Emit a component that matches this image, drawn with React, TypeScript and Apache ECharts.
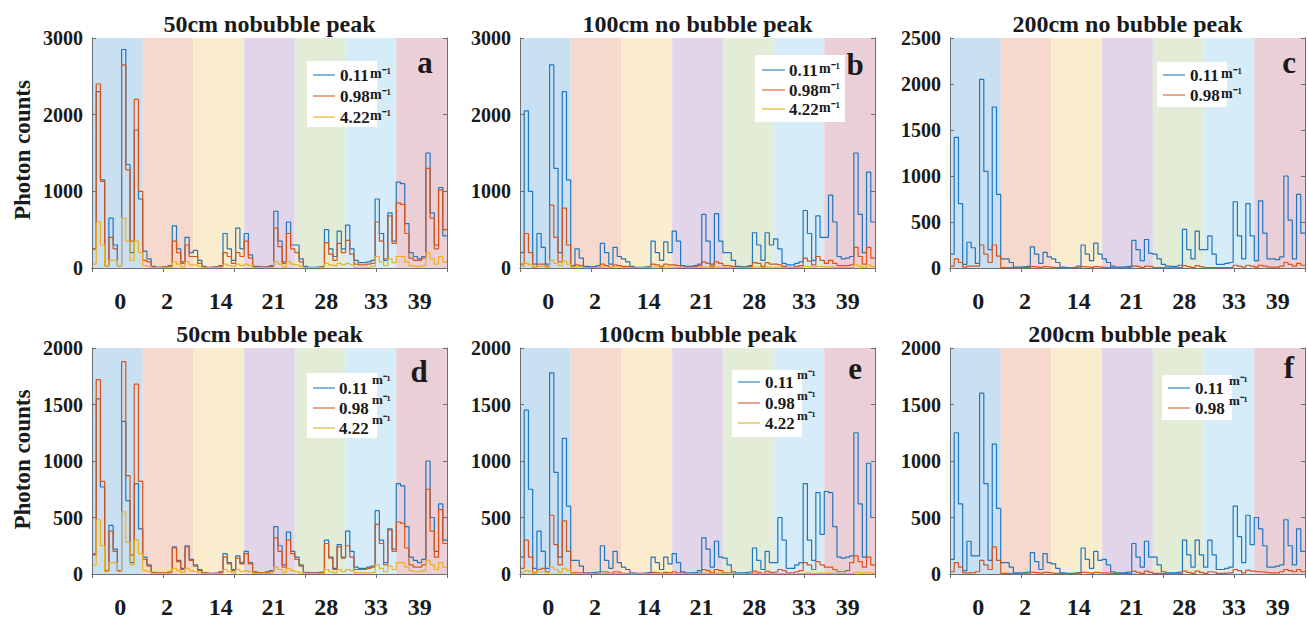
import React, { useEffect, useRef } from "react";
import * as echarts from "echarts";

// ---------- data ----------
const days = ["0", "2", "14", "21", "28", "33", "39"];
const seriesNames = ["0.11", "0.98", "4.22"];
const bandColors = ["#c8e0f1", "#f7d8cd", "#f9edcd", "#e2d5e9", "#e3ecd6", "#d6ecf8", "#ebcfd6"];
const lineColors = ["#1f77c0", "#d95319", "#edb120"];
const legendLineColors = ["#5b9fd6", "#e58a66", "#efc25e"];

// each series: 7 days x 12 consecutive plateau readings (photon counts)
const a011 = [
  [250, 2300, 1150, 30, 650, 300, 30, 2850, 1350, 200, 1800, 900],
  [220, 120, 20, 10, 15, 20, 30, 550, 250, 80, 400, 200],
  [230, 100, 20, 10, 15, 20, 30, 450, 250, 100, 520, 250],
  [450, 170, 20, 15, 15, 20, 30, 740, 350, 80, 600, 300],
  [300, 120, 20, 10, 10, 15, 20, 500, 250, 150, 480, 250],
  [560, 250, 100, 70, 70, 80, 100, 900, 450, 100, 720, 350],
  [1120, 1100, 580, 200, 150, 120, 150, 1500, 720, 300, 1050, 420],
];
const a098 = [
  [250, 2400, 1130, 30, 400, 250, 30, 2650, 1280, 350, 2200, 1000],
  [100, 80, 10, 10, 10, 15, 20, 350, 200, 60, 300, 150],
  [150, 60, 10, 5, 10, 15, 20, 200, 150, 60, 200, 150],
  [350, 130, 10, 10, 10, 15, 20, 520, 280, 60, 450, 250],
  [200, 80, 10, 5, 5, 10, 15, 330, 180, 100, 320, 200],
  [360, 180, 50, 40, 40, 50, 60, 600, 350, 120, 680, 320],
  [850, 830, 450, 130, 100, 100, 130, 1300, 650, 250, 1020, 500],
];
const a422 = [
  [50, 600, 300, 30, 100, 100, 30, 650, 350, 100, 350, 200],
  [30, 20, 5, 5, 5, 10, 10, 80, 50, 15, 80, 40],
  [40, 20, 5, 5, 5, 10, 10, 50, 30, 20, 50, 30],
  [50, 30, 5, 5, 5, 5, 10, 80, 50, 15, 80, 50],
  [40, 20, 5, 5, 5, 5, 10, 60, 40, 30, 60, 40],
  [60, 40, 10, 10, 10, 10, 20, 150, 80, 30, 120, 70],
  [150, 150, 80, 30, 20, 20, 30, 200, 120, 50, 150, 80],
];

const b011 = [
  [200, 2050, 1000, 50, 450, 270, 50, 2650, 1300, 200, 2300, 1150],
  [30, 250, 130, 20, 15, 20, 30, 320, 200, 50, 270, 150],
  [120, 80, 20, 10, 10, 15, 20, 350, 200, 100, 340, 200],
  [480, 350, 30, 20, 20, 30, 50, 700, 350, 50, 710, 350],
  [200, 200, 100, 20, 15, 20, 30, 460, 300, 100, 460, 300],
  [380, 250, 60, 40, 40, 60, 80, 750, 450, 100, 680, 400],
  [400, 950, 600, 150, 120, 130, 150, 1500, 700, 200, 1250, 600],
];
const b098 = [
  [50, 450, 200, 10, 50, 50, 20, 820, 400, 80, 780, 300],
  [10, 40, 30, 5, 5, 5, 10, 50, 30, 10, 40, 30],
  [20, 15, 5, 3, 3, 5, 5, 50, 40, 20, 50, 40],
  [40, 30, 10, 10, 10, 20, 30, 80, 60, 20, 80, 60],
  [30, 30, 20, 10, 5, 10, 20, 70, 60, 20, 70, 50],
  [50, 40, 20, 10, 10, 20, 30, 130, 90, 40, 150, 100],
  [60, 100, 60, 30, 30, 30, 40, 270, 150, 50, 270, 130],
];
const b422 = [
  [20, 60, 40, 10, 20, 20, 10, 100, 60, 30, 90, 50],
  [5, 15, 10, 3, 3, 3, 5, 15, 10, 5, 15, 10],
  [5, 5, 2, 2, 2, 2, 2, 15, 10, 5, 15, 10],
  [10, 8, 3, 3, 3, 5, 5, 15, 10, 5, 15, 10],
  [5, 5, 5, 3, 3, 3, 5, 15, 10, 5, 15, 10],
  [10, 8, 5, 3, 3, 5, 5, 20, 15, 8, 20, 15],
  [10, 15, 10, 5, 5, 5, 5, 40, 25, 10, 40, 20],
];

const c011 = [
  [150, 1420, 700, 40, 280, 220, 50, 2050, 1050, 200, 1750, 800],
  [100, 100, 60, 10, 10, 15, 20, 230, 150, 50, 170, 120],
  [100, 60, 10, 5, 5, 10, 20, 250, 150, 80, 270, 150],
  [100, 60, 20, 10, 10, 15, 20, 300, 200, 80, 310, 160],
  [150, 100, 40, 20, 15, 20, 30, 420, 200, 100, 400, 200],
  [200, 350, 150, 40, 40, 50, 60, 720, 350, 100, 700, 350],
  [80, 730, 380, 100, 100, 90, 120, 1000, 520, 100, 800, 380],
];
const c098 = [
  [20, 100, 60, 10, 20, 20, 20, 250, 150, 60, 250, 130],
  [5, 5, 5, 3, 3, 3, 5, 15, 10, 5, 15, 10],
  [5, 5, 2, 2, 2, 2, 3, 15, 10, 5, 15, 10],
  [5, 5, 2, 2, 2, 3, 5, 20, 15, 5, 20, 15],
  [5, 5, 3, 2, 2, 3, 5, 25, 15, 5, 25, 15],
  [5, 5, 3, 3, 3, 5, 5, 30, 20, 10, 30, 20],
  [10, 30, 20, 10, 10, 10, 20, 60, 40, 20, 50, 30],
];

const d011 = [
  [170, 1550, 770, 30, 430, 220, 30, 1350, 650, 100, 800, 400],
  [150, 80, 15, 10, 10, 15, 20, 240, 120, 50, 250, 130],
  [80, 40, 10, 5, 5, 10, 20, 180, 100, 40, 160, 100],
  [200, 100, 20, 10, 10, 20, 30, 420, 250, 80, 370, 200],
  [150, 80, 15, 10, 10, 15, 20, 300, 150, 50, 260, 150],
  [380, 200, 60, 50, 50, 60, 70, 560, 300, 100, 400, 220],
  [800, 780, 420, 150, 120, 100, 130, 1000, 500, 200, 620, 300],
];
const d098 = [
  [180, 1720, 820, 30, 380, 200, 30, 1880, 870, 170, 1680, 820],
  [130, 70, 10, 10, 10, 15, 20, 230, 110, 40, 240, 120],
  [70, 30, 8, 5, 5, 8, 15, 150, 90, 30, 140, 90],
  [180, 90, 15, 10, 10, 15, 25, 320, 200, 60, 300, 180],
  [130, 70, 10, 8, 8, 10, 15, 270, 140, 40, 240, 140],
  [250, 150, 40, 40, 40, 50, 60, 440, 270, 80, 390, 200],
  [460, 450, 230, 80, 60, 60, 80, 750, 380, 150, 570, 270],
];
const d422 = [
  [80, 480, 250, 20, 100, 100, 20, 550, 280, 80, 300, 180],
  [30, 20, 5, 5, 5, 5, 10, 50, 30, 15, 50, 30],
  [20, 10, 3, 3, 3, 3, 5, 40, 20, 10, 40, 20],
  [30, 20, 5, 5, 5, 5, 10, 60, 40, 15, 50, 30],
  [20, 10, 5, 3, 3, 3, 5, 40, 20, 10, 40, 20],
  [40, 30, 10, 10, 10, 10, 15, 80, 50, 20, 70, 40],
  [100, 100, 60, 30, 20, 20, 30, 120, 80, 40, 100, 60],
];

const e011 = [
  [150, 1450, 750, 50, 380, 200, 50, 1780, 900, 150, 1200, 600],
  [120, 120, 70, 10, 10, 15, 20, 250, 120, 50, 200, 100],
  [60, 40, 10, 5, 5, 10, 15, 150, 100, 40, 150, 90],
  [180, 100, 20, 10, 10, 15, 30, 320, 220, 60, 290, 150],
  [140, 80, 20, 10, 10, 15, 20, 230, 120, 40, 200, 100],
  [100, 500, 300, 50, 50, 80, 100, 800, 300, 120, 720, 350],
  [730, 720, 420, 150, 140, 150, 160, 1250, 620, 150, 980, 500],
];
const e098 = [
  [50, 300, 150, 10, 40, 50, 20, 520, 260, 80, 470, 200],
  [10, 10, 8, 3, 3, 3, 5, 20, 15, 5, 20, 15],
  [5, 5, 3, 2, 2, 3, 3, 15, 10, 5, 15, 10],
  [20, 10, 5, 3, 3, 5, 10, 40, 30, 10, 40, 30],
  [10, 8, 4, 3, 3, 4, 5, 25, 15, 5, 25, 15],
  [20, 40, 30, 10, 10, 20, 30, 100, 80, 40, 110, 80],
  [60, 60, 40, 20, 20, 30, 100, 160, 110, 60, 150, 80],
];
const e422 = [
  [10, 30, 20, 5, 20, 20, 10, 60, 40, 15, 50, 30],
  [3, 3, 3, 2, 2, 2, 2, 5, 5, 2, 5, 5],
  [2, 2, 2, 1, 1, 1, 2, 5, 4, 2, 5, 4],
  [3, 3, 2, 2, 2, 2, 3, 8, 5, 3, 8, 5],
  [3, 3, 2, 2, 2, 2, 3, 6, 4, 2, 6, 4],
  [3, 5, 4, 2, 2, 3, 4, 10, 8, 4, 10, 8],
  [5, 5, 4, 3, 3, 3, 5, 15, 10, 5, 15, 8],
];

const f011 = [
  [130, 1250, 620, 30, 290, 160, 160, 1600, 800, 120, 1150, 580],
  [100, 100, 60, 10, 10, 15, 20, 190, 110, 40, 180, 100],
  [90, 50, 10, 5, 5, 10, 15, 230, 130, 50, 200, 120],
  [130, 80, 20, 10, 10, 15, 20, 270, 150, 60, 290, 150],
  [150, 80, 20, 10, 10, 15, 20, 300, 170, 60, 300, 170],
  [60, 300, 170, 40, 40, 50, 60, 600, 330, 100, 520, 260],
  [500, 400, 250, 60, 60, 70, 80, 480, 250, 80, 400, 200],
];
const f098 = [
  [20, 100, 60, 10, 10, 10, 20, 120, 80, 40, 240, 120],
  [5, 5, 3, 2, 2, 2, 3, 15, 10, 5, 15, 10],
  [5, 5, 3, 2, 2, 2, 3, 15, 10, 5, 15, 10],
  [10, 8, 4, 3, 3, 4, 5, 25, 15, 5, 25, 15],
  [5, 5, 3, 2, 2, 3, 5, 25, 15, 5, 25, 15],
  [5, 20, 15, 5, 5, 10, 10, 40, 30, 10, 35, 25],
  [20, 20, 15, 10, 10, 10, 20, 40, 30, 20, 40, 20],
];

const yTicksTop = [3000, 3000, 2500, 2000, 2000, 2000];
const yTickSteps = [1000, 1000, 500, 500, 500, 500];

// ---------- layout ----------
const FONT = '"Liberation Serif", "Times New Roman", serif';
const TEXT = "#1a1a1a";
const AXIS = "#6e6e6e";
const PER_BAND = 12;
const N = days.length * PER_BAND;
const PW = 355;
// small horizontal nudges (px) of the day labels from their band centres (layout only)
const LABEL_NUDGE = [3, -1, 2, 4, 6, 5, -2];

const panels = [
  { title: "50cm nobubble peak", series: [a011, a098, a422], left: 92, top: 38, height: 230, ylab: true, letter: "a", lx: 425, ly: 62, sup: false,
    box: [307, 61, 70, 66], lineX: [313, 335], rows: [75, 96, 117], vx: 340, ux: 370, uy: -2 },
  { title: "100cm no bubble peak", series: [b011, b098, b422], left: 520, top: 38, height: 230, ylab: false, letter: "b", lx: 855, ly: 64, sup: false,
    box: [755, 55, 90, 67], lineX: [762, 785], rows: [70, 90, 109], vx: 789, ux: 819, uy: -2 },
  { title: "200cm no bubble peak", series: [c011, c098], left: 950, top: 38, height: 230, ylab: false, letter: "c", lx: 1289, ly: 62, sup: false,
    box: [1157, 62, 70, 45], lineX: [1163, 1185], rows: [75, 95], vx: 1190, ux: 1221, uy: -2 },
  { title: "50cm bubble peak", series: [d011, d098, d422], left: 92, top: 348, height: 229, ylab: true, letter: "d", lx: 419, ly: 371, sup: true,
    box: [307, 373, 70, 65], lineX: [313, 335], rows: [388, 408, 428], vx: 339, ux: 372, uy: -9 },
  { title: "100cm bubble peak", series: [e011, e098, e422], left: 520, top: 348, height: 229, ylab: false, letter: "e", lx: 855, ly: 368, sup: true,
    box: [732, 370, 70, 67], lineX: [738, 760], rows: [382, 403, 423], vx: 765, ux: 797, uy: -8 },
  { title: "200cm bubble peak", series: [f011, f098], left: 950, top: 348, height: 229, ylab: false, letter: "f", lx: 1289, ly: 367, sup: true,
    box: [1162, 375, 70, 45], lineX: [1168, 1190], rows: [388, 408], vx: 1195, ux: 1229, uy: -8 },
];

function toPoints(bands: number[][]) {
  const flat: number[] = [];
  bands.forEach((b) => b.forEach((v) => flat.push(v)));
  const pts = flat.map((v, i) => [i, v]);
  pts.push([flat.length, flat[flat.length - 1]]);
  return pts;
}

function buildOption() {
  const grid: any[] = [];
  const xAxis: any[] = [];
  const yAxis: any[] = [];
  const series: any[] = [];
  const graphic: any[] = [];

  const labelStyle = { fontFamily: FONT, fontWeight: "bold", fontSize: 24, color: TEXT };
  const rich: any = {};
  LABEL_NUDGE.forEach((d, i) => {
    rich["p" + i] = {
      ...labelStyle,
      padding: d >= 0 ? [0, 0, 0, 2 * d] : [0, -2 * d, 0, 0],
    };
  });

  panels.forEach((p, pi) => {
    grid.push({ left: p.left, top: p.top, width: PW, height: p.height, containLabel: false });
    xAxis.push({
      gridIndex: pi, type: "value", position: "top", min: 0, max: N, interval: N / 5,
      axisLabel: { show: false }, splitLine: { show: false },
      axisTick: { show: true, inside: true, length: 4, lineStyle: { color: AXIS } },
      axisLine: { show: true, lineStyle: { color: AXIS, width: 1 } }, z: 10,
    });
    xAxis.push({
      gridIndex: pi, type: "category", position: "bottom", data: days, boundaryGap: true,
      axisTick: { show: false }, splitLine: { show: false },
      axisLine: { show: true, lineStyle: { color: AXIS, width: 1 } },
      axisLabel: {
        ...labelStyle, margin: 21, interval: 0,
        formatter: (v: string, idx: number) => `{p${idx}|${v}}`,
        rich,
      },
      z: 10,
    });
    yAxis.push({
      gridIndex: pi, type: "value", position: "left", min: 0, max: yTicksTop[pi], interval: yTickSteps[pi],
      splitLine: { show: false },
      axisTick: { show: true, inside: true, length: 4, lineStyle: { color: AXIS } },
      axisLine: { show: true, lineStyle: { color: AXIS, width: 1 } },
      axisLabel: { formatter: (v: number) => String(v), fontFamily: FONT, fontWeight: "bold", fontSize: 20, color: TEXT, margin: 9 },
      z: 10,
    });
    yAxis.push({
      gridIndex: pi, type: "value", position: "right", min: 0, max: yTicksTop[pi], interval: yTickSteps[pi],
      splitLine: { show: false }, axisLabel: { show: false },
      axisTick: { show: true, inside: true, length: 4, lineStyle: { color: AXIS } },
      axisLine: { show: true, lineStyle: { color: AXIS, width: 1 } }, z: 10,
    });

    p.series.forEach((bands, si) => {
      series.push({
        type: "line", name: seriesNames[si] + "-" + p.letter,
        xAxisIndex: pi * 2, yAxisIndex: pi * 2,
        step: "end", symbol: "none", showSymbol: false, silent: true,
        lineStyle: { width: 1.2, color: lineColors[si] }, itemStyle: { color: lineColors[si] },
        data: toPoints(bands), z: 2 + si,
        markArea: si === 0 ? {
          silent: true,
          data: days.map((_, i) => [
            { xAxis: i * PER_BAND, itemStyle: { color: bandColors[i], opacity: 1 } },
            { xAxis: (i + 1) * PER_BAND },
          ]),
        } : undefined,
      });
    });

    // title
    graphic.push({
      type: "text", x: p.left + PW / 2, y: p.top - 14, z: 100,
      style: { text: p.title, font: `bold 24px ${FONT}`, fill: TEXT, align: "center", verticalAlign: "middle" },
    });
    // panel letter
    graphic.push({
      type: "text", x: p.lx, y: p.ly, z: 100,
      style: { text: p.letter, font: `bold 31px ${FONT}`, fill: TEXT, align: "center", verticalAlign: "middle" },
    });
    if (p.ylab) {
      graphic.push({
        type: "text", x: 22, y: p.top + p.height / 2 - 3, rotation: Math.PI / 2, z: 100,
        style: { text: "Photon counts", font: `bold 23px ${FONT}`, fill: TEXT, align: "center", verticalAlign: "middle" },
      });
    }
    // legend
    const [bx, by, bw, bh] = p.box;
    graphic.push({ type: "rect", z: 100, shape: { x: bx, y: by, width: bw, height: bh }, style: { fill: "#ffffff", stroke: null } });
    p.series.forEach((_, si) => {
      const ry = p.rows[si];
      graphic.push({
        type: "line", z: 101, shape: { x1: p.lineX[0], y1: ry, x2: p.lineX[1], y2: ry },
        style: { stroke: legendLineColors[si], lineWidth: 1.5 },
      });
      graphic.push({
        type: "text", x: p.vx, y: ry, z: 101,
        style: { text: seriesNames[si], font: `bold 17px ${FONT}`, fill: TEXT, align: "left", verticalAlign: "middle" },
      });
      graphic.push({
        type: "text", x: p.ux, y: ry + p.uy, z: 101,
        style: { text: "m\u207B\u00B9", font: `bold ${p.sup ? 13 : 14}px ${FONT}`, fill: TEXT, align: "left", verticalAlign: "middle" },
      });
    });
  });

  return {
    animation: false,
    backgroundColor: "#ffffff",
    grid, xAxis, yAxis, series, graphic,
  };
}

export default function App() {
  const ref = useRef<HTMLDivElement>(null);
  useEffect(() => {
    if (!ref.current) return;
    const chart = echarts.init(ref.current, undefined, { renderer: "svg" });
    chart.setOption(buildOption() as any);
    return () => chart.dispose();
  }, []);
  return (
    <div
      ref={ref}
      style={{ position: "absolute", left: 0, top: 0, width: 1308, height: 619, background: "#fff" }}
    />
  );
}
